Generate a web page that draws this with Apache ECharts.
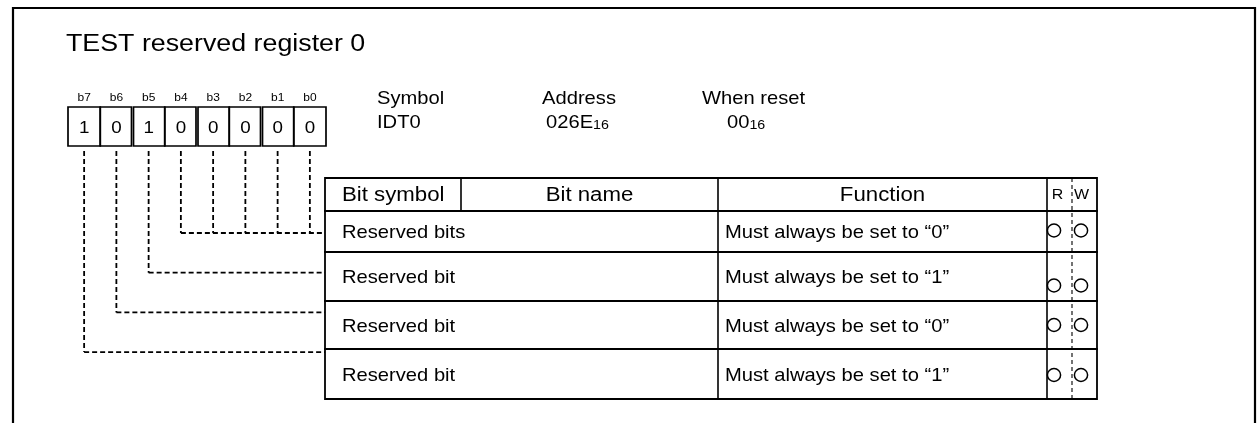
<!DOCTYPE html>
<html><head><meta charset="utf-8">
<script src="https://cdn.jsdelivr.net/npm/echarts@6/dist/echarts.min.js"></script>
<style>html,body{margin:0;padding:0;background:#fff}#c{width:1257px;height:423px}</style>
</head><body><div id="c"></div>
<script>
// ---------- data ----------
const titleText = 'TEST reserved register 0';
const bitLabels = ['b7','b6','b5','b4','b3','b2','b1','b0'];
const bitValues = [1,0,1,0,0,0,0,0];
const infoLabels = ['Symbol','Address','When reset'];
const infoValues = ['IDT0','026E','00'];
const infoSubscripts = ['','16','16'];
const headerLabels = ['Bit symbol','Bit name','Function','R','W'];
const rowNames = ['Reserved bits','Reserved bit','Reserved bit','Reserved bit'];
const rowFunctions = ['Must always be set to \u201C0\u201D','Must always be set to \u201C1\u201D','Must always be set to \u201C0\u201D','Must always be set to \u201C1\u201D'];
const rowBits = [['b4','b3','b2','b1','b0'],['b5'],['b6'],['b7']];
const rowRead = [true,true,true,true];
const rowWrite = [true,true,true,true];

// ---------- layout ----------
const L = {
  frame:{x0:13,y0:8,x1:1255,y1:460},
  title:{x:66,y:45},
  box:{x0:68,y0:107,cell:32.25,h:39},
  bitLabelY:98,
  infoX:[377,542,702], infoVX:[377,546,727], infoY1:99, infoY2:122,
  cols:[325,461,718,1047,1072,1097],
  rows:[178,211,252,301,349,399],
  textDY:2,
  leader:{y0:151,first:233,gap:39.7},
  circleDX:[7,9], circleDY:[-1,9,0,1],
  sx:1.14
};
const FONT = '"Liberation Sans", Arial, Helvetica, sans-serif';
const INK = '#000';
const DASH = [5,3];

function txt(api, x, y, text, size, align, extra) {
  const p = api.coord([x, y]);
  return {type:'text', x:p[0], y:p[1], scaleX:L.sx,
    style:Object.assign({text:text, fontSize:size, fontFamily:FONT, fill:INK, align:align||'left', verticalAlign:'middle'}, extra||{})};
}
function line(api, x1, y1, x2, y2, w, dash) {
  const a = api.coord([x1,y1]), b = api.coord([x2,y2]);
  return {type:'line', shape:{x1:a[0],y1:a[1],x2:b[0],y2:b[1]},
    style:{stroke:INK, lineWidth:w, lineDash:dash||null, fill:null}};
}
function rect(api, x0, y0, x1, y1, w) {
  const a = api.coord([x0,y0]), b = api.coord([x1,y1]);
  return {type:'rect', shape:{x:a[0],y:a[1],width:b[0]-a[0],height:b[1]-a[1]},
    style:{stroke:INK, lineWidth:w, fill:'none'}};
}
function bitX(label){ const i = bitLabels.indexOf(label); return L.box.x0 + (i+0.5)*L.box.cell; }

const chart = echarts.init(document.getElementById('c'), null, {renderer:'canvas'});
const base = {type:'custom', coordinateSystem:'cartesian2d', silent:true, animation:false, clip:false};

chart.setOption({
  animation:false,
  grid:{left:0,right:0,top:0,bottom:0,containLabel:false},
  xAxis:{type:'value',min:0,max:1257,show:false},
  yAxis:{type:'value',min:0,max:423,inverse:true,show:false},
  series:[
    // frame, title, info block
    Object.assign({}, base, {data:[[0,0]], renderItem:function(params, api){
      const ch = [rect(api, L.frame.x0, L.frame.y0, L.frame.x1, L.frame.y1, 2.2)];
      ch.push(txt(api, L.title.x, L.title.y, titleText, 23.5));
      infoLabels.forEach(function(lab, k){
        ch.push(txt(api, L.infoX[k], L.infoY1, lab, 17.7));
        ch.push(txt(api, L.infoVX[k], L.infoY2, '{m|'+infoValues[k]+'}' + (infoSubscripts[k] ? '{s|'+infoSubscripts[k]+'}' : ''), 17.7, 'left',
          {rich:{m:{fontSize:17.7,fontFamily:FONT,fill:INK,lineHeight:20,verticalAlign:'bottom'}, s:{fontSize:12.5,fontFamily:FONT,fill:INK,lineHeight:15,verticalAlign:'bottom'}}}));
      });
      return {type:'group', children:ch};
    }}),
    // bit cells
    Object.assign({}, base, {data:bitLabels.map(function(b,i){return [i, bitValues[i]];}), renderItem:function(params, api){
      const i = params.dataIndex, c = L.box.cell;
      const x0 = L.box.x0 + i*c + (i%2===0 && i>0 ? 1 : 0);
      const x1 = L.box.x0 + (i+1)*c - (i%2===1 && i<bitLabels.length-1 ? 1 : 0);
      const cx = L.box.x0 + (i+0.5)*c;
      return {type:'group', children:[
        rect(api, x0, L.box.y0, x1, L.box.y0+L.box.h, 1.7),
        txt(api, cx, L.bitLabelY, bitLabels[i], 10.5, 'center'),
        txt(api, cx, L.box.y0+L.box.h/2+2, String(api.value(1)), 16.5, 'center')
      ]};
    }}),
    // leaders
    Object.assign({}, base, {data:rowBits.map(function(r,i){return [i, r.length];}), renderItem:function(params, api){
      const i = params.dataIndex, ly = L.leader.first + i*L.leader.gap;
      const ch = []; let minX = Infinity;
      rowBits[i].forEach(function(b){
        const x = bitX(b); minX = Math.min(minX, x);
        ch.push(line(api, x, L.leader.y0, x, ly, 1.8, DASH));
      });
      ch.push(line(api, minX, ly, L.cols[0], ly, 1.8, DASH));
      return {type:'group', children:ch};
    }}),
    // table header
    Object.assign({}, base, {data:[[0,0]], renderItem:function(params, api){
      const C = L.cols, R = L.rows, y = (R[0]+R[1])/2 + 1;
      return {type:'group', children:[
        rect(api, C[0], R[0], C[5], R[1], 1.8),
        line(api, C[1], R[0], C[1], R[1], 1.6),
        line(api, C[2], R[0], C[2], R[1], 1.6),
        line(api, C[3], R[0], C[3], R[1], 1.6),
        line(api, C[4], R[0], C[4], R[R.length-1], 1.1, [4,3]),
        txt(api, C[0]+17, y, headerLabels[0], 19.5),
        txt(api, (C[1]+C[2])/2, y, headerLabels[1], 19.5, 'center'),
        txt(api, (C[2]+C[3])/2, y, headerLabels[2], 19.5, 'center'),
        txt(api, (C[3]+C[4])/2-2, y, headerLabels[3], 14, 'center'),
        txt(api, (C[4]+C[5])/2-3, y, headerLabels[4], 14, 'center')
      ]};
    }}),
    // table rows
    Object.assign({}, base, {data:rowNames.map(function(n,i){return [i,0];}), renderItem:function(params, api){
      const i = params.dataIndex, C = L.cols, R = L.rows;
      const y0 = R[i+1], y1 = R[i+2], y = (y0+y1)/2, ty = y + L.textDY, cy = y + L.circleDY[i];
      const ch = [
        rect(api, C[0], y0, C[5], y1, 1.8),
        line(api, C[2], y0, C[2], y1, 1.6),
        line(api, C[3], y0, C[3], y1, 1.6),
        txt(api, C[0]+17, ty, rowNames[i], 17.7),
        txt(api, C[2]+7, ty, rowFunctions[i], 17.7)
      ];
      [[rowRead, C[3]+L.circleDX[0]], [rowWrite, C[4]+L.circleDX[1]]].forEach(function(pr){
        if (pr[0][i]) {
          const p = api.coord([pr[1], cy]);
          ch.push({type:'ellipse', shape:{cx:p[0], cy:p[1], rx:6.6, ry:6.4}, style:{stroke:INK, lineWidth:1.5, fill:'none'}});
        }
      });
      return {type:'group', children:ch};
    }})
  ]
});
</script>
</body></html>
